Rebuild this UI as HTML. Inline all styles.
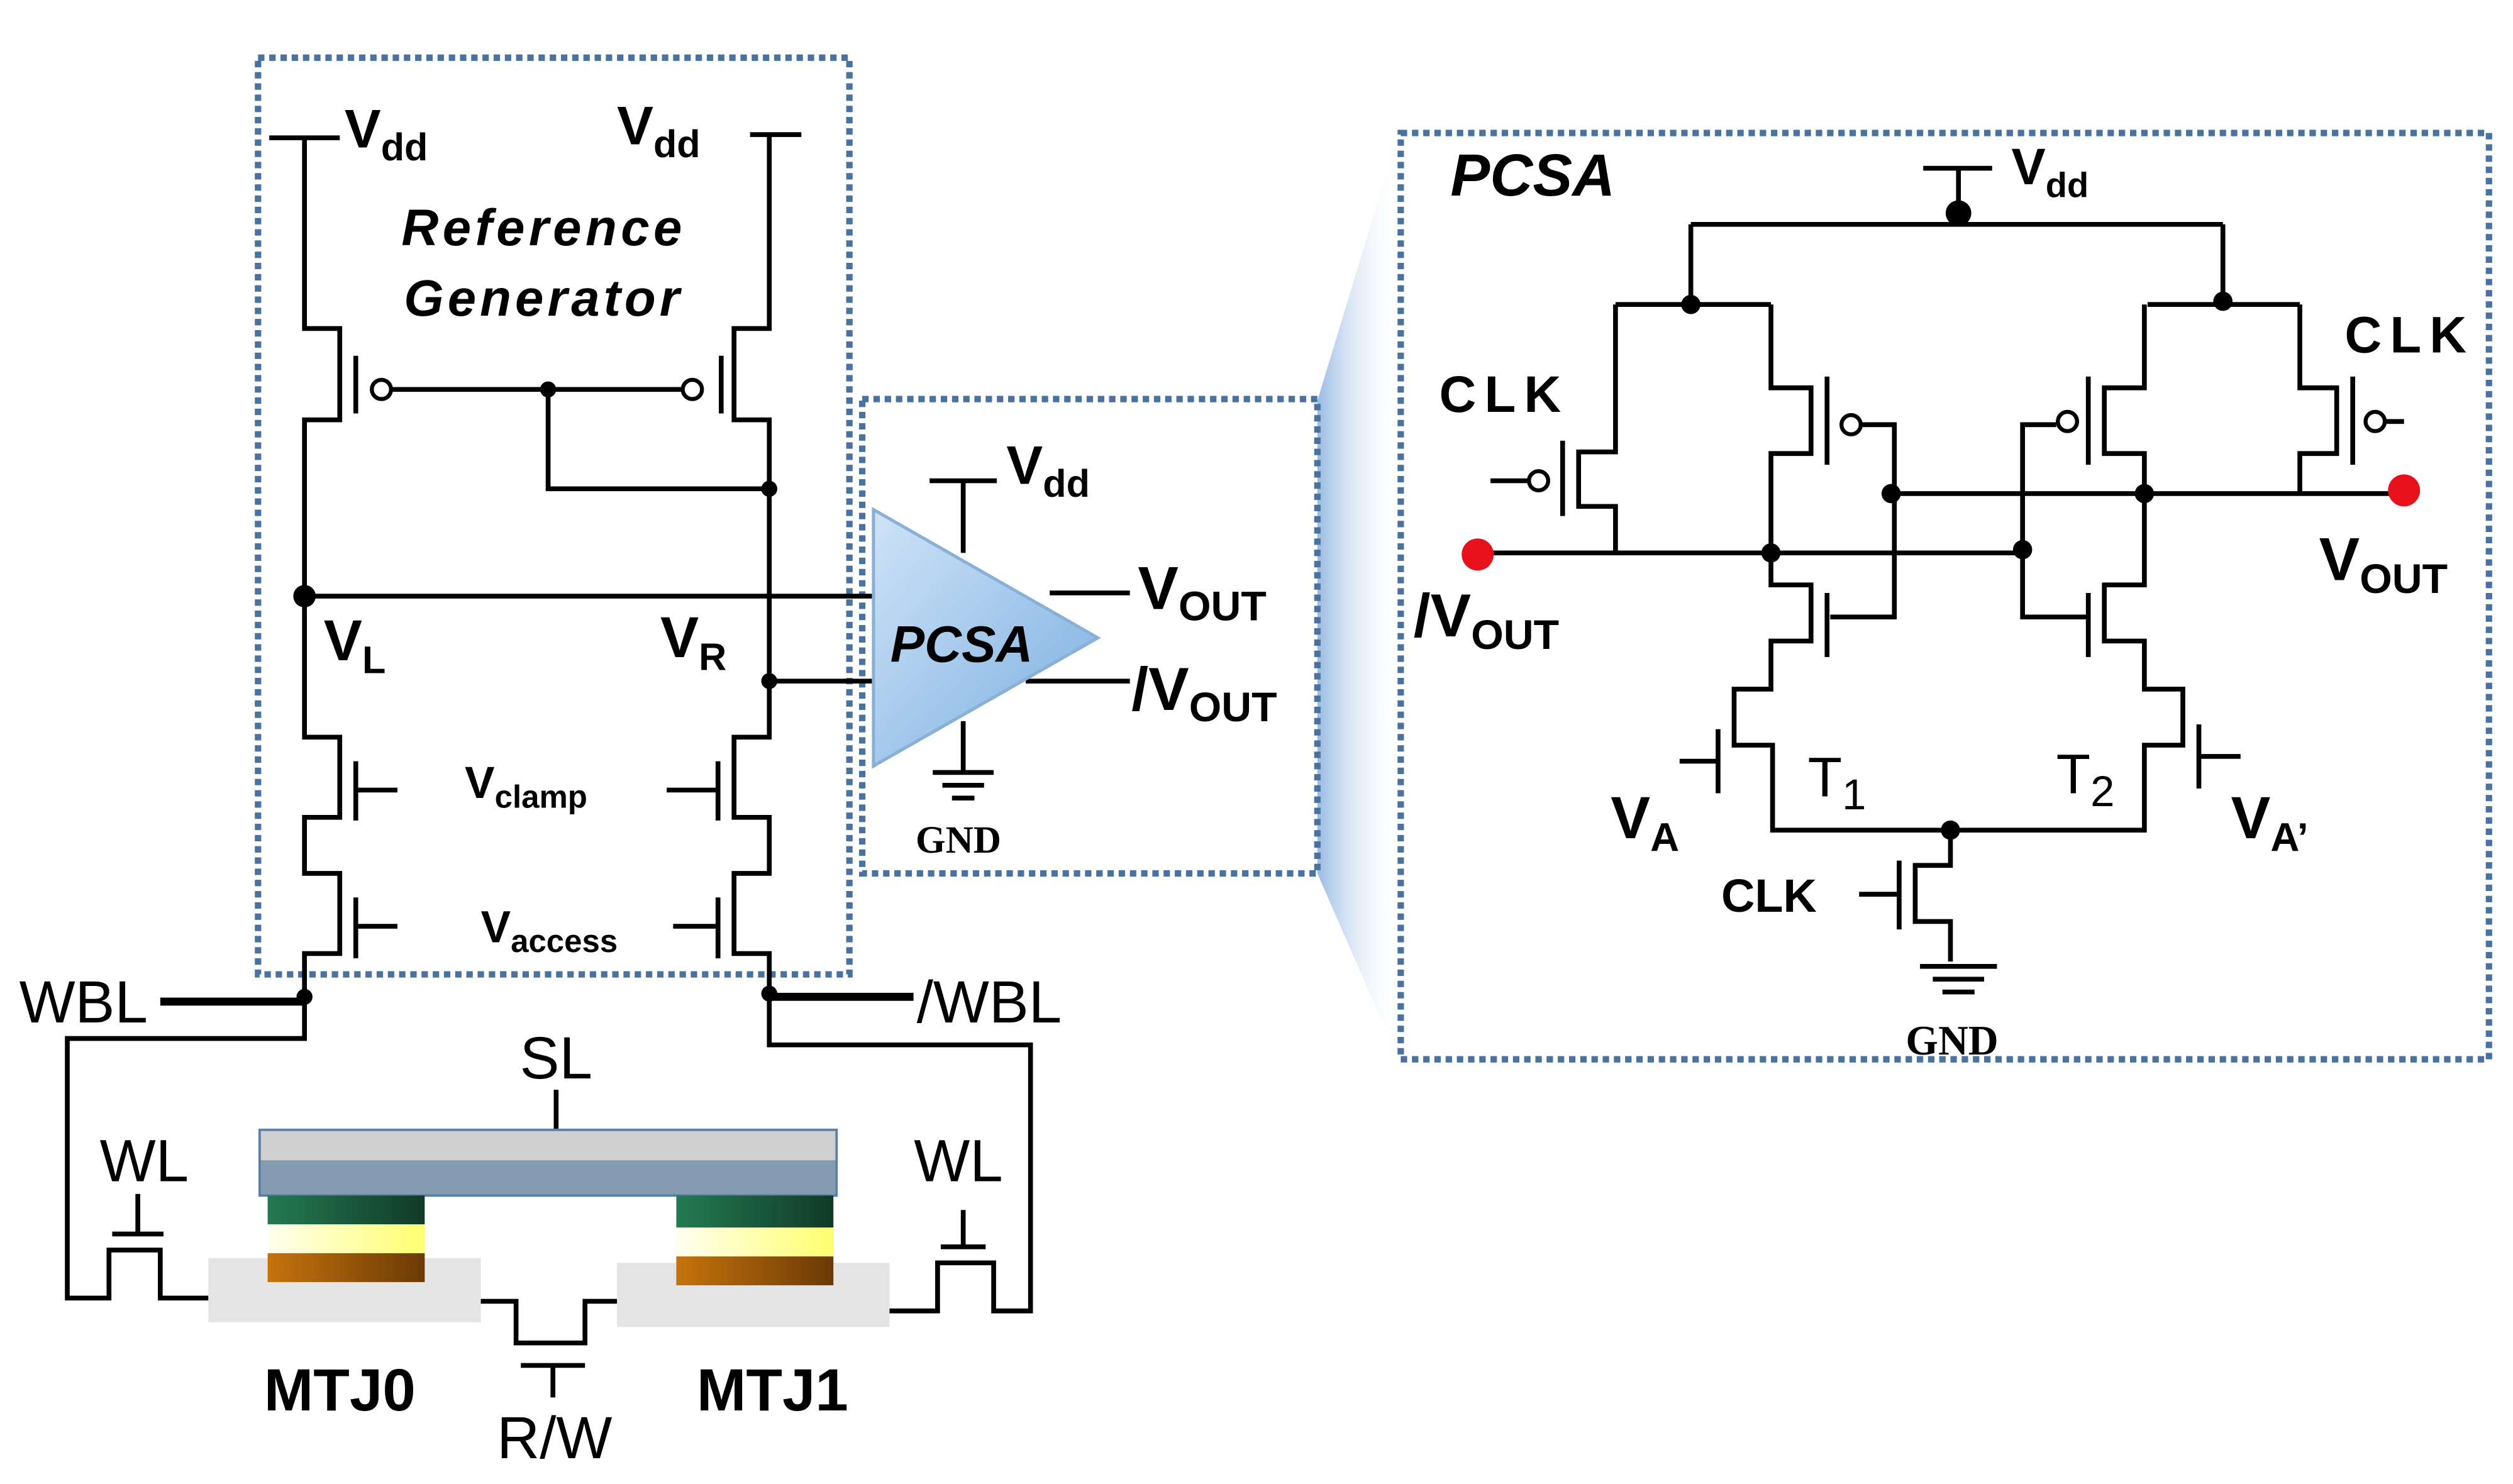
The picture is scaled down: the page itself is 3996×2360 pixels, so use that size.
<!DOCTYPE html>
<html><head><style>html,body{margin:0;padding:0;background:#fff}svg{display:block}</style></head>
<body>
<svg width="3996" height="2360" viewBox="0 0 1568 926" preserveAspectRatio="none" xmlns="http://www.w3.org/2000/svg" font-family="Liberation Sans, Arial, sans-serif">
<defs>
<linearGradient id="fun" x1="0" x2="1"><stop offset="0" stop-color="#7fa9dc"/><stop offset="1" stop-color="#ffffff" stop-opacity="0"/></linearGradient>
<linearGradient id="tri" x1="0" y1="0" x2="1" y2="1"><stop offset="0" stop-color="#cfe3f7"/><stop offset="1" stop-color="#7aaee0"/></linearGradient>
<linearGradient id="gr" x1="0" x2="1"><stop offset="0" stop-color="#237a52"/><stop offset="1" stop-color="#113a26"/></linearGradient>
<linearGradient id="ye" x1="0" x2="1"><stop offset="0" stop-color="#fffff0"/><stop offset="1" stop-color="#ffff70"/></linearGradient>
<linearGradient id="br" x1="0" x2="1"><stop offset="0" stop-color="#c6730c"/><stop offset="1" stop-color="#6a3a06"/></linearGradient>
</defs>
<rect width="1568" height="926" fill="#fff"/>
<polygon points="822,250 873,82 873,662 822,545" fill="url(#fun)" opacity="0.8"/>
<g fill="none" stroke="#4a72a0" stroke-width="4" stroke-dasharray="4,3">
<rect x="161" y="36" width="369" height="572"/>
<rect x="538" y="249" width="284" height="296"/>
<rect x="874" y="83" width="679" height="578"/>
</g>
<g fill="none" stroke="#000" stroke-width="3">
<path d="M168,86 H212 M190,86 V205 H212 V262 H190 V460 H212 V510 H190 V545 H212 V595 H190 V648 H42 V810 H68 V780 H100 V810 H130"/>
<path d="M222,222 V258 M222,475 V512 M222,560 V598"/>
<path d="M222,493 H248 M222,578 H248"/>
<path d="M244,243 H426"/>
<path d="M468,84 H500 M480,84 V205 H458 V262 H480 V460 H458 V510 H480 V545 H458 V595 H480 V652 H643 V818 H620 V788 H585 V818 H555"/>
<path d="M450,222 V258 M448,475 V512 M448,560 V598 M448,493 H416 M448,578 H420"/>
<path d="M342,243 V305 H480"/>
<path d="M190,372 H545 M480,425 H548"/>
<path d="M300,812 H322 V838 H365 V812 H385"/>
<path d="M70,770 H102 M86,745 V770 M587,778 H615 M601,755 V778 M325,852 H365 M345,852 V872 M347,680 V715"/>
<path d="M580,300 H622 M601,300 V345 M601,450 V482 M582,482 H620 M588,490 H614 M594,498 H608 M655,370 H705 M640,425 H705"/>
<path d="M1200,105 H1243 M1222,105 V133 M1055,140 H1387 M1055,140 V190 M1387,140 V190"/>
<path d="M1008,190 H1105 M1340,190 H1435"/>
<path d="M1008,190 V282 H985 V316 H1008 V345 M975,275 V322 M930,300 H954"/>
<path d="M1105,190 V242 H1130 V283 H1105 V365 H1130 V400 H1105 V430 H1082 V465 H1106 V518 H1338 V465 H1362 V430 H1338 V400 H1313 V365 H1338 V283 H1313 V242 H1338 V190"/>
<path d="M1140,235 V290 M1162,265 H1182 V385 H1142 M1140,370 V410"/>
<path d="M1303,235 V290 M1283,265 H1262 V385 H1303 M1303,370 V410"/>
<path d="M1435,190 V242 H1458 V283 H1435 V308 M1468,235 V290 M1488,263 H1500"/>
<path d="M922,345 H1262 M1180,308 H1500"/>
<path d="M1072,455 V495 M1048,475 H1072 M1372,452 V492 M1372,472 H1398"/>
<path d="M1217,518 V540 H1195 V575 H1217 V600 M1185,537 V580 M1160,558 H1185"/>
<path d="M1198,603 H1246 M1206,611 H1238 M1212,619 H1232"/>
</g>
<path d="M100,625 H190 M480,622 H570" stroke="#000" stroke-width="5"/>
<g fill="#fff" stroke="#000" stroke-width="2.5">
<circle cx="238" cy="243" r="6"/><circle cx="432" cy="243" r="6"/>
<circle cx="960" cy="300" r="6"/><circle cx="1155" cy="265" r="6"/><circle cx="1290" cy="263" r="6"/><circle cx="1482" cy="263" r="6"/>
</g>
<g fill="#000">
<circle cx="342" cy="243" r="5"/><circle cx="480" cy="305" r="5"/><circle cx="190" cy="372" r="7"/><circle cx="480" cy="425" r="5"/>
<circle cx="190" cy="622" r="5"/><circle cx="480" cy="620" r="5"/><circle cx="343" cy="715" r="5"/>
<circle cx="1222" cy="133" r="8"/><circle cx="1055" cy="190" r="6"/><circle cx="1387" cy="188" r="6"/>
<circle cx="1180" cy="308" r="6"/><circle cx="1338" cy="308" r="6"/><circle cx="1105" cy="345" r="6"/><circle cx="1262" cy="343" r="6"/><circle cx="1217" cy="518" r="6"/>
</g>
<circle cx="922" cy="346" r="10" fill="#e8101a"/><circle cx="1500" cy="306" r="10" fill="#e8101a"/>
<polygon points="545,318 545,478 685,398" fill="url(#tri)" stroke="#8ab0d8" stroke-width="2"/>
<rect x="130" y="785" width="170" height="40" fill="#e4e4e4"/>
<rect x="385" y="788" width="170" height="40" fill="#e4e4e4"/>
<rect x="162" y="705" width="360" height="20" fill="#d0d0d0"/>
<rect x="162" y="724" width="360" height="22" fill="#849bb2"/>
<rect x="162" y="705" width="360" height="41" fill="none" stroke="#5a7fa8" stroke-width="1.5"/>
<rect x="167" y="746" width="98" height="18" fill="url(#gr)"/><rect x="167" y="764" width="98" height="18" fill="url(#ye)"/><rect x="167" y="782" width="98" height="18" fill="url(#br)"/>
<rect x="422" y="746" width="98" height="20" fill="url(#gr)"/><rect x="422" y="766" width="98" height="18" fill="url(#ye)"/><rect x="422" y="784" width="98" height="18" fill="url(#br)"/>
<g fill="#000">
<text x="215" y="92" font-size="34" font-weight="bold">V<tspan font-size="24" dy="8">dd</tspan></text>
<text x="385" y="90" font-size="34" font-weight="bold">V<tspan font-size="24" dy="8">dd</tspan></text>
<text x="338" y="153" font-size="32" font-weight="bold" font-style="italic" text-anchor="middle" textLength="175">Reference</text>
<text x="338" y="197" font-size="32" font-weight="bold" font-style="italic" text-anchor="middle" textLength="172">Generator</text>
<text x="202" y="412" font-size="36" font-weight="bold">V<tspan font-size="24" dy="8">L</tspan></text>
<text x="412" y="410" font-size="36" font-weight="bold">V<tspan font-size="24" dy="8">R</tspan></text>
<text x="290" y="498" font-size="28" font-weight="bold">V<tspan font-size="20" dy="6">clamp</tspan></text>
<text x="300" y="588" font-size="28" font-weight="bold">V<tspan font-size="20" dy="6">access</tspan></text>
<text x="12" y="638" font-size="37">WBL</text>
<text x="572" y="638" font-size="37">/WBL</text>
<text x="347" y="673" font-size="37" text-anchor="middle">SL</text>
<text x="90" y="737" font-size="37" text-anchor="middle">WL</text>
<text x="598" y="737" font-size="37" text-anchor="middle">WL</text>
<text x="212" y="880" font-size="37" font-weight="bold" text-anchor="middle">MTJ0</text>
<text x="482" y="880" font-size="37" font-weight="bold" text-anchor="middle">MTJ1</text>
<text x="346" y="910" font-size="37" text-anchor="middle">R/W</text>
<text x="628" y="302" font-size="34" font-weight="bold">V<tspan font-size="24" dy="8">dd</tspan></text>
<text x="600" y="413" font-size="32" font-weight="bold" font-style="italic" text-anchor="middle">PCSA</text>
<text x="710" y="380" font-size="38" font-weight="bold">V<tspan font-size="26" dy="7">OUT</tspan></text>
<text x="706" y="443" font-size="38" font-weight="bold">/V<tspan font-size="26" dy="7">OUT</tspan></text>
<text x="598" y="532" font-size="24" font-weight="bold" font-family="Liberation Serif, serif" text-anchor="middle">GND</text>
<text x="905" y="122" font-size="37" font-weight="bold" font-style="italic">PCSA</text>
<text x="1255" y="115" font-size="32" font-weight="bold">V<tspan font-size="22" dy="8">dd</tspan></text>
<text x="898" y="257" font-size="32" font-weight="bold" textLength="76">CLK</text>
<text x="1463" y="220" font-size="32" font-weight="bold" textLength="76">CLK</text>
<text x="1074" y="569" font-size="29" font-weight="bold">CLK</text>
<text x="882" y="397" font-size="38" font-weight="bold">/V<tspan font-size="26" dy="8">OUT</tspan></text>
<text x="1447" y="362" font-size="38" font-weight="bold">V<tspan font-size="26" dy="8">OUT</tspan></text>
<text x="1005" y="523" font-size="37" font-weight="bold">V<tspan font-size="25" dy="8">A</tspan></text>
<text x="1392" y="523" font-size="37" font-weight="bold">V<tspan font-size="25" dy="8">A’</tspan></text>
<text x="1128" y="497" font-size="35">T<tspan font-size="27" dy="8">1</tspan></text>
<text x="1283" y="495" font-size="35">T<tspan font-size="27" dy="8">2</tspan></text>
<text x="1218" y="658" font-size="26" font-weight="bold" font-family="Liberation Serif, serif" text-anchor="middle">GND</text>
</g>
</svg>
</body></html>
